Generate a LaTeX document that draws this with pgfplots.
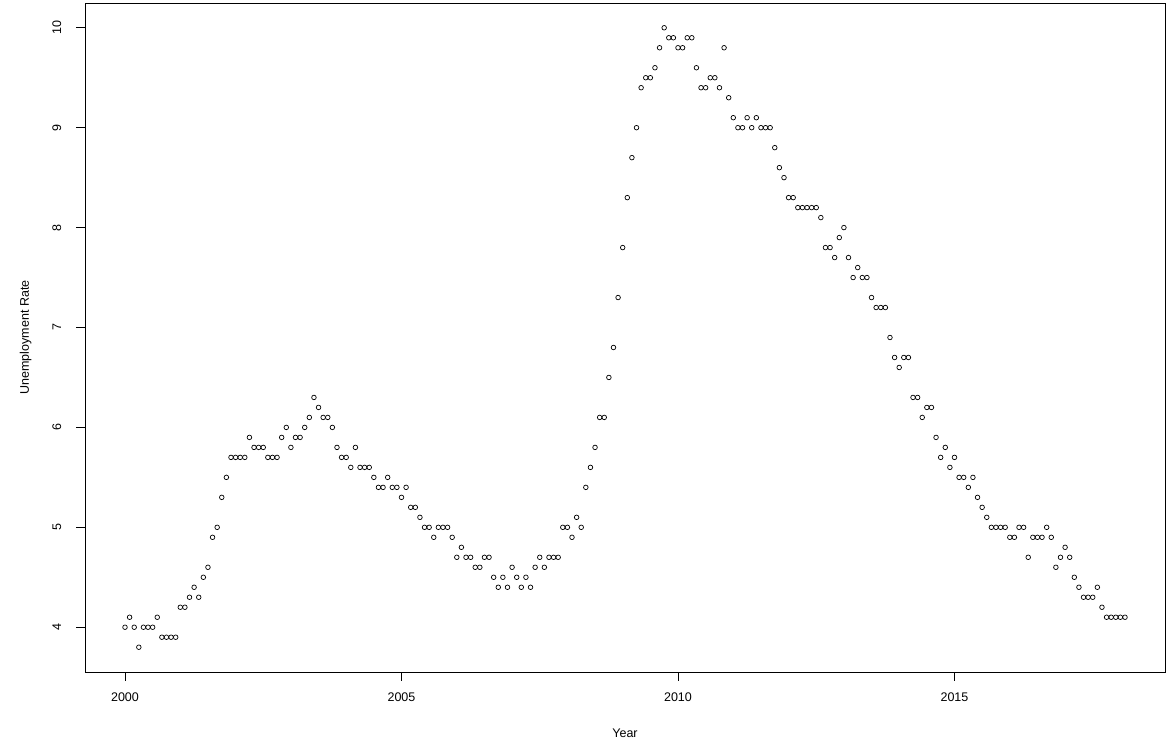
\documentclass[border=0pt]{standalone}
\usepackage{fontspec}
\setmainfont{Liberation Sans}
\usepackage{pgfplots}
\pgfplotsset{compat=1.18}
\usepackage{pgfplotstable}
\pgfplotstableread[row sep=\\]{
x y\\
2000.0000 4.0\\ 2000.0833 4.1\\ 2000.1667 4.0\\ 2000.2500 3.8\\ 2000.3333 4.0\\ 2000.4167 4.0\\ 2000.5000 4.0\\ 2000.5833 4.1\\ 2000.6667 3.9\\ 2000.7500 3.9\\ 2000.8333 3.9\\ 2000.9167 3.9\\
2001.0000 4.2\\ 2001.0833 4.2\\ 2001.1667 4.3\\ 2001.2500 4.4\\ 2001.3333 4.3\\ 2001.4167 4.5\\ 2001.5000 4.6\\ 2001.5833 4.9\\ 2001.6667 5.0\\ 2001.7500 5.3\\ 2001.8333 5.5\\ 2001.9167 5.7\\
2002.0000 5.7\\ 2002.0833 5.7\\ 2002.1667 5.7\\ 2002.2500 5.9\\ 2002.3333 5.8\\ 2002.4167 5.8\\ 2002.5000 5.8\\ 2002.5833 5.7\\ 2002.6667 5.7\\ 2002.7500 5.7\\ 2002.8333 5.9\\ 2002.9167 6.0\\
2003.0000 5.8\\ 2003.0833 5.9\\ 2003.1667 5.9\\ 2003.2500 6.0\\ 2003.3333 6.1\\ 2003.4167 6.3\\ 2003.5000 6.2\\ 2003.5833 6.1\\ 2003.6667 6.1\\ 2003.7500 6.0\\ 2003.8333 5.8\\ 2003.9167 5.7\\
2004.0000 5.7\\ 2004.0833 5.6\\ 2004.1667 5.8\\ 2004.2500 5.6\\ 2004.3333 5.6\\ 2004.4167 5.6\\ 2004.5000 5.5\\ 2004.5833 5.4\\ 2004.6667 5.4\\ 2004.7500 5.5\\ 2004.8333 5.4\\ 2004.9167 5.4\\
2005.0000 5.3\\ 2005.0833 5.4\\ 2005.1667 5.2\\ 2005.2500 5.2\\ 2005.3333 5.1\\ 2005.4167 5.0\\ 2005.5000 5.0\\ 2005.5833 4.9\\ 2005.6667 5.0\\ 2005.7500 5.0\\ 2005.8333 5.0\\ 2005.9167 4.9\\
2006.0000 4.7\\ 2006.0833 4.8\\ 2006.1667 4.7\\ 2006.2500 4.7\\ 2006.3333 4.6\\ 2006.4167 4.6\\ 2006.5000 4.7\\ 2006.5833 4.7\\ 2006.6667 4.5\\ 2006.7500 4.4\\ 2006.8333 4.5\\ 2006.9167 4.4\\
2007.0000 4.6\\ 2007.0833 4.5\\ 2007.1667 4.4\\ 2007.2500 4.5\\ 2007.3333 4.4\\ 2007.4167 4.6\\ 2007.5000 4.7\\ 2007.5833 4.6\\ 2007.6667 4.7\\ 2007.7500 4.7\\ 2007.8333 4.7\\ 2007.9167 5.0\\
2008.0000 5.0\\ 2008.0833 4.9\\ 2008.1667 5.1\\ 2008.2500 5.0\\ 2008.3333 5.4\\ 2008.4167 5.6\\ 2008.5000 5.8\\ 2008.5833 6.1\\ 2008.6667 6.1\\ 2008.7500 6.5\\ 2008.8333 6.8\\ 2008.9167 7.3\\
2009.0000 7.8\\ 2009.0833 8.3\\ 2009.1667 8.7\\ 2009.2500 9.0\\ 2009.3333 9.4\\ 2009.4167 9.5\\ 2009.5000 9.5\\ 2009.5833 9.6\\ 2009.6667 9.8\\ 2009.7500 10.0\\ 2009.8333 9.9\\ 2009.9167 9.9\\
2010.0000 9.8\\ 2010.0833 9.8\\ 2010.1667 9.9\\ 2010.2500 9.9\\ 2010.3333 9.6\\ 2010.4167 9.4\\ 2010.5000 9.4\\ 2010.5833 9.5\\ 2010.6667 9.5\\ 2010.7500 9.4\\ 2010.8333 9.8\\ 2010.9167 9.3\\
2011.0000 9.1\\ 2011.0833 9.0\\ 2011.1667 9.0\\ 2011.2500 9.1\\ 2011.3333 9.0\\ 2011.4167 9.1\\ 2011.5000 9.0\\ 2011.5833 9.0\\ 2011.6667 9.0\\ 2011.7500 8.8\\ 2011.8333 8.6\\ 2011.9167 8.5\\
2012.0000 8.3\\ 2012.0833 8.3\\ 2012.1667 8.2\\ 2012.2500 8.2\\ 2012.3333 8.2\\ 2012.4167 8.2\\ 2012.5000 8.2\\ 2012.5833 8.1\\ 2012.6667 7.8\\ 2012.7500 7.8\\ 2012.8333 7.7\\ 2012.9167 7.9\\
2013.0000 8.0\\ 2013.0833 7.7\\ 2013.1667 7.5\\ 2013.2500 7.6\\ 2013.3333 7.5\\ 2013.4167 7.5\\ 2013.5000 7.3\\ 2013.5833 7.2\\ 2013.6667 7.2\\ 2013.7500 7.2\\ 2013.8333 6.9\\ 2013.9167 6.7\\
2014.0000 6.6\\ 2014.0833 6.7\\ 2014.1667 6.7\\ 2014.2500 6.3\\ 2014.3333 6.3\\ 2014.4167 6.1\\ 2014.5000 6.2\\ 2014.5833 6.2\\ 2014.6667 5.9\\ 2014.7500 5.7\\ 2014.8333 5.8\\ 2014.9167 5.6\\
2015.0000 5.7\\ 2015.0833 5.5\\ 2015.1667 5.5\\ 2015.2500 5.4\\ 2015.3333 5.5\\ 2015.4167 5.3\\ 2015.5000 5.2\\ 2015.5833 5.1\\ 2015.6667 5.0\\ 2015.7500 5.0\\ 2015.8333 5.0\\ 2015.9167 5.0\\
2016.0000 4.9\\ 2016.0833 4.9\\ 2016.1667 5.0\\ 2016.2500 5.0\\ 2016.3333 4.7\\ 2016.4167 4.9\\ 2016.5000 4.9\\ 2016.5833 4.9\\ 2016.6667 5.0\\ 2016.7500 4.9\\ 2016.8333 4.6\\ 2016.9167 4.7\\
2017.0000 4.8\\ 2017.0833 4.7\\ 2017.1667 4.5\\ 2017.2500 4.4\\ 2017.3333 4.3\\ 2017.4167 4.3\\ 2017.5000 4.3\\ 2017.5833 4.4\\ 2017.6667 4.2\\ 2017.7500 4.1\\ 2017.8333 4.1\\ 2017.9167 4.1\\
2018.0000 4.1\\ 2018.0833 4.1\\
}\unrate
\begin{document}
\fontsize{12.5}{15}\selectfont
\begin{tikzpicture}
\begin{axis}[
  scale only axis, width=1080pt, height=669pt,
  xmin=1999.2767, xmax=2018.8067, ymin=3.552, ymax=10.248,
  xtick={2000,2005,2010,2015}, ytick={4,5,6,7,8,9,10},
  xtick pos=bottom, ytick pos=left,
  tick align=outside, major tick length=9pt,
  axis line style={black, line width=0.8pt},
  every tick/.style={black, line width=0.8pt},
  /pgf/number format/assume math mode=true,
  /pgf/number format/1000 sep={},
  xticklabel style={font=\fontsize{12.5}{15}\selectfont, anchor=base, yshift=-21pt},
  yticklabel style={font=\fontsize{12.5}{15}\selectfont, rotate=90, anchor=base, yshift=15pt},
  xlabel={Year}, ylabel={Unemployment Rate},
  every axis x label/.style={at={(rel axis cs:0.5,0)}, anchor=base, yshift=-66pt, font=\fontsize{12.5}{15}\selectfont},
  every axis y label/.style={at={(rel axis cs:0,0.5)}, rotate=90, anchor=base, yshift=56pt, font=\fontsize{12.5}{15}\selectfont},
]
\addplot[only marks, mark=o, mark size=2.3pt, mark options={line width=0.7pt, black}] table[x=x, y=y] {\unrate};
\end{axis}
\path ([xshift=-85pt,yshift=-72pt]current axis.south west) rectangle ([xshift=8pt,yshift=3pt]current axis.north east);
\end{tikzpicture}
\end{document}
